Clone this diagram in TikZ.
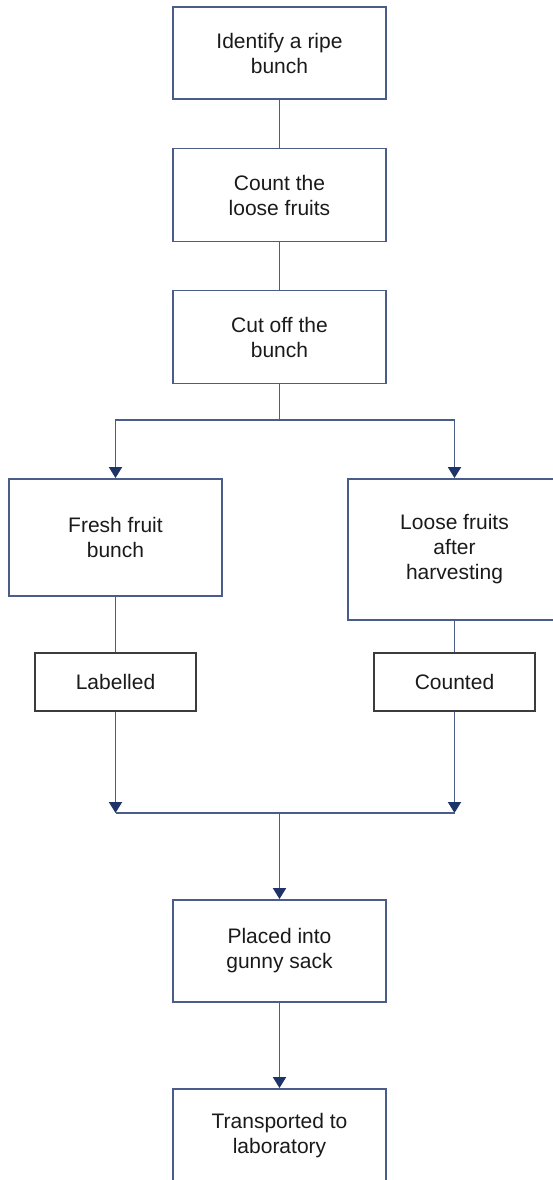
\documentclass[tikz,border=0pt]{standalone}
\usepackage{fontspec}
\setmainfont{Liberation Sans}
\usetikzlibrary{arrows.meta,positioning}
\definecolor{harvLine}{HTML}{4A5C8A}
\definecolor{harvNavy}{HTML}{1E3468}
\definecolor{harvInk}{HTML}{1A1A1A}
\tikzset{
    >=Latex,
    every picture/.style={font=\fontsize{21pt}{25pt}\selectfont},
    stage/.style={draw=harvLine, line width=1.9pt, align=center, minimum width=213pt, minimum height=92pt, inner sep=2pt, text=harvInk},
    tag/.style={draw=harvInk!85, line width=1.9pt, align=center, minimum width=161pt, minimum height=58pt, inner sep=2pt, text=harvInk},
    link/.style={line width=1.9pt, draw=harvLine},
    linkarrow/.style={link, -{Triangle[length=11pt,width=13pt,color=harvNavy]}}
}
\begin{document}
\begin{tikzpicture}[x=1pt,y=-1pt]
\useasboundingbox (0,0) rectangle (553,1180);
\node[stage] (ident) at (279.5,53) {Identify a ripe\\bunch};
\node[stage, minimum height=93pt] (count) at (279.5,195) {Count the\\loose fruits};
\node[stage, minimum height=93pt] (cut) at (279.5,337) {Cut off the\\bunch};
\node[stage, minimum height=117pt] (fresh) at (115.5,537.5) {Fresh fruit\\bunch};
\node[stage, minimum height=141pt] (loose) at (454.5,549.5) {Loose fruits\\after\\harvesting};
\node[tag] (labelled) at (115.5,682) {Labelled};
\node[tag] (counted) at (454.5,682) {Counted};
\node[stage, minimum height=102pt] (placed) at (279.5,951) {Placed into\\gunny sack};
\node[stage, minimum height=93pt] (transport) at (279.5,1135.5) {Transported to\\laboratory};
\coordinate (split) at (279.5,420);
\coordinate (merge) at (279.5,813);
\draw[link] (ident) -- (count);
\draw[link] (count) -- (cut);
\draw[link] (cut.south) -- (split);
\draw[linkarrow] (split) -| (fresh.north);
\draw[linkarrow] (split) -| (loose.north);
\draw[link] (fresh) -- (labelled);
\draw[link] (loose) -- (counted);
\draw[linkarrow] (labelled.south) -- (labelled.south |- merge);
\draw[linkarrow] (counted.south) -- (counted.south |- merge);
\draw[link] (labelled.south |- merge) -- (counted.south |- merge);
\draw[linkarrow] (merge) -- (placed.north);
\draw[linkarrow] (placed) -- (transport);
\end{tikzpicture}
\end{document}
